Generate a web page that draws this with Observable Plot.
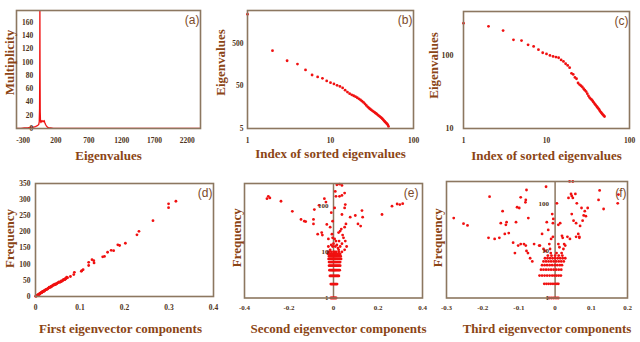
<!DOCTYPE html>
<html><head><meta charset="utf-8">
<script src="https://cdn.jsdelivr.net/npm/d3@7"></script>
<script src="https://cdn.jsdelivr.net/npm/@observablehq/plot@0.6"></script>
<style>
html,body{margin:0;padding:0;background:#fff;}
#fig{position:relative;width:640px;height:342px;overflow:hidden;background:#fff;}
#fig svg{position:absolute;overflow:visible;}
</style></head><body><div id="fig"></div>
<script>
// ---------- (a) spectrum ----------
const aEigen = [-400,-330,-280,-230,-180,-140,-110,-90,-75,-62,-54,-49,-46,-44,-42,-39,-35,-28,-20,-12,-4,4,12,20,30,42,55,70,90,120,160,220,400,800,1200,1600,2000,2400];
const aMult  = [0,0,1,1,2,2,3,4,5,6,10,30,90,185,90,25,12,9,11,12,11,10,11,12,9,6,4,2,1,1,0,0,0,0,0,0,0,0];
const aXTicks = [-300,200,700,1200,1700,2200];
const aYTicks = [0,20,40,60,80,100,120,140,160];
// ---------- (b) sorted eigenvalues ----------
const bValues = [2450,340,197,164,120,91,82,76,66,60,56,52,49,45,40,36,33,31,29.5,28,26.5,25,23.5,22,20.5,19,17.5,16.2,15.2,14.4,13.7,13,12.5,12,11.5,11,10.5,10.1,9.7,9.3,8.9,8.5,8.1,7.7,7.3,7,6.7,6.4,6.1,5.6];
const bYTicks = [5,50,500];
// ---------- (c) sorted eigenvalues ----------
const cValues = [276,251,219,164,160,140,133,120,109,105,100,97,95,93,87,83,77,73,68,57,55,50,48,42,40,38.5,37,35,33.5,32,30,28,26.5,25.5,24.8,23.8,22.8,21.8,21,20.3,19.6,18.9,18.2,17.4,16.8,16.3,15.8,15.4,15,14.6];
const cYTicks = [10,100];
const logXTicks = [1,10,100];
// ---------- (d) first eigenvector ----------
const dPoints = [[0.3155,295],[0.299,287],[0.299,275],[0.264,235],[0.2325,202],[0.228,191],[0.202,165],[0.189,158],[0.185,160],[0.1756,142],[0.170,143],[0.162,137],[0.155,124],[0.151,123],[0.131,111],[0.1316,104],[0.127,114],[0.1195,106],[0.1195,96],[0.107,83],[0.103,78],[0.104,80],[0.0874,75],[0.086,68],[0.0785,62],[0.072,58],[0.07,60],[0.068,55],[0.066,52],[0.062,50],[0.06,48],[0.057,46],[0.055,44],[0.052,44],[0.05,42],[0.048,40],[0.046,38],[0.044,37],[0.042,36],[0.04,35],[0.038,33],[0.036,31],[0.034,29],[0.032,28],[0.03,27],[0.028,25],[0.026,23],[0.024,21],[0.022,20],[0.021,19],[0.019,17],[0.018,16],[0.016,15],[0.015,14],[0.013,12],[0.012,11],[0.011,10],[0.01,9],[0.009,8],[0.008,7],[0.007,6],[0.006,5],[0.005,4],[0.004,3],[0.003,3],[0.002,2],[0.001,1],[0.0005,1],[0.003,2],[0.005,5],[0.009,7],[0.014,12],[0.017,16],[0.02,17],[0.023,21],[0.027,23],[0.031,29],[0.035,31],[0.039,35],[0.043,38],[0.047,40],[0.053,45],[0.058,48],[0.063,53],[0.067,55]];
const dXTicks = [0,0.1,0.2,0.3,0.4];
const dYTicks = [0,50,100,150,200,250,300,350];
// ---------- (e) second eigenvector ----------
const ePoints = [[-0.299,141],[-0.293,158],[-0.286,146],[-0.236,124],[-0.185,75],[-0.146,50],[-0.131,46],[-0.125,45],[-0.090,50],[-0.090,40],[-0.086,82],[-0.065,101],[-0.041,141],[-0.034,119],[-0.071,24],[-0.053,26],[-0.050,23],[-0.023,19],[-0.030,39],[-0.015,34],[-0.010,70],[-0.004,46],[0.015,282],[0.027,290],[0.038,272],[0.008,202],[0.027,158],[0.038,166],[0.050,186],[0.053,105],[0.050,89],[0.038,64],[0.011,158],[0.005,89],[0.075,56],[0.098,61],[0.128,78],[0.131,56],[0.110,40],[0.122,36],[0.056,40],[0.050,34],[0.035,31],[0.030,28],[0.023,26],[0.041,23],[0.045,20],[0.053,17],[0.059,13],[0.218,64],[0.263,97],[0.286,108],[0.298,105],[0.311,110],[-0.007,24],[-0.004,20],[0.005,19],[0.011,17],[0,15],[-0.010,14],[-0.004,13],[0.008,13],[0.020,12],[0.030,13],[0.038,15],[-0.015,11],[0.005,10],[0.023,11],[-0.025,10],[0.008,9],[0.030,9],[0.038,10],[-0.023,13],[0.015,14],[0.025,17],[0.050,11]];
const eRowFreq = [1,2,3,4,5,6,7,8,9,10];
const eRowX = [
  [-0.012,-0.008,-0.004,0,0.004,0.008,0.012],
  [-0.012,-0.008,-0.004,0,0.004,0.008,0.012,0.016],
  [-0.016,-0.012,-0.008,-0.004,0,0.004,0.008,0.012,0.016,0.02,0.024],
  [-0.018,-0.013,-0.008,-0.004,0,0.004,0.008,0.013,0.018,0.023,0.028],
  [-0.02,-0.015,-0.01,-0.005,0,0.005,0.01,0.015,0.02,0.025,0.03],
  [-0.02,-0.015,-0.01,-0.005,0,0.005,0.01,0.015,0.02,0.025,0.03],
  [-0.022,-0.016,-0.01,-0.005,0,0.005,0.01,0.016,0.022,0.028,0.034],
  [-0.02,-0.014,-0.008,-0.003,0.003,0.008,0.014,0.02,0.026,0.032],
  [-0.025,-0.015,-0.006,0.002,0.01,0.018,0.026],
  [-0.02,-0.01,0,0.012,0.024]
];
const eXTicks = [-0.4,-0.2,0,0.2,0.4];
// ---------- (f) third eigenvector ----------
const fPoints = [[-0.280,50],[-0.253,38],[-0.242,35],[-0.181,143],[-0.145,70],[-0.150,39],[-0.134,41],[-0.136,36],[-0.184,19],[-0.167,18],[-0.154,19],[-0.139,23],[-0.128,24],[-0.116,15],[-0.111,9],[-0.108,41],[-0.105,85],[-0.099,82],[-0.095,138],[-0.082,108],[-0.079,198],[-0.081,122],[-0.074,50],[-0.095,14],[-0.102,13],[-0.086,14],[-0.081,13],[-0.079,10],[-0.075,9],[-0.069,7],[-0.063,6],[-0.058,14],[-0.044,13],[-0.036,23],[-0.023,41],[-0.025,232],[-0.019,28],[-0.016,14],[-0.014,11],[-0.008,61],[-0.006,39],[-0.005,48],[-0.006,20],[-0.011,18],[0.005,103],[0.009,36],[0.014,39],[0.019,21],[0.021,19],[0.023,11],[0.028,13],[0.040,301],[0.049,300],[0.044,163],[0.046,148],[0.049,134],[0.037,134],[0.056,163],[0.060,103],[0.051,44],[0.058,39],[0.046,61],[0.073,82],[0.082,70],[0.090,82],[0.079,57],[0.085,55],[0.076,44],[0.069,34],[0.064,23],[0.067,20],[0.058,20],[0.067,19],[0.123,194],[0.120,122],[0.134,78],[0.173,103],[0.175,158],[0.034,20],[0.041,18],[0.025,14],[0.009,14],[0.012,12],[-0.042,13],[-0.032,11],[-0.027,10]];
const fRowFreq = [1,2,3,4,5,6,7,8,9];
const fRowX = [
  [-0.02,-0.015,-0.01,-0.005,0,0.005,0.009],
  [-0.03,-0.024,-0.018,-0.012,-0.006,0,0.005,0.009],
  [-0.043,-0.036,-0.029,-0.022,-0.015,-0.008,-0.002,0.004,0.01,0.016],
  [-0.039,-0.032,-0.025,-0.018,-0.011,-0.004,0.003,0.01,0.017],
  [-0.036,-0.029,-0.022,-0.015,-0.008,-0.001,0.006,0.013,0.019],
  [-0.032,-0.025,-0.018,-0.011,-0.004,0.003,0.01,0.017,0.024],
  [-0.028,-0.021,-0.014,-0.007,0,0.007,0.014,0.021,0.028],
  [-0.02,-0.01,0,0.01,0.02],
  [-0.012,0.004,0.018]
];
const fXTicks = [-0.3,-0.2,-0.1,0,0.1,0.2];
const freqLogTicks = [1,10,100];

// ---------- styling ----------
const RED = "#f01010", FRAME = "#8c7760", TITLE = "#8b4515", TICK = "#4e3320", TAG = "#7b4a2a";
const SERIF = "'Liberation Serif','Times New Roman',serif";
const SANS = "'Liberation Sans','Noto Sans',sans-serif";
const fig = document.getElementById("fig");

function rowsToPoints(freqs, rows) {
  const out = [];
  rows.forEach((r, i) => r.forEach(x => out.push([x, freqs[i]])));
  return out;
}

function tickText(o) {
  return {fontSize: 7.5, fontWeight: "bold", fill: TICK, fontFamily: SERIF, ...o};
}

function panel({left, top, width, height, margins, x, y, marks, xTitle, yTitle, tag, xt, yt, tagDx = -1, tagDy = 10}) {
  const [mt, mr, mb, ml] = margins;
  const svg = Plot.plot({
    width, height, marginTop: mt, marginRight: mr, marginBottom: mb, marginLeft: ml,
    x, y,
    style: {fontFamily: SERIF, background: "transparent", overflow: "visible"},
    marks: [
      ...marks,
      Plot.frame({stroke: FRAME, strokeWidth: 1.6}),
      Plot.text([xTitle], {text: d => d, frameAnchor: "bottom", dx: xt[0], dy: xt[1], lineAnchor: "middle", textAnchor: "middle", fontSize: 13, fontWeight: "bold", fill: TITLE, fontFamily: SERIF}),
      Plot.text([yTitle], {text: d => d, frameAnchor: "left", rotate: -90, dx: yt[0], dy: yt[1], lineAnchor: "middle", textAnchor: "middle", fontSize: 13, fontWeight: "bold", fill: TITLE, fontFamily: SERIF}),
      Plot.text([tag], {text: d => d, frameAnchor: "top-right", dx: tagDx, dy: tagDy, textAnchor: "end", lineAnchor: "middle", fontSize: 12, fill: TAG, fontFamily: SANS})
    ]
  });
  svg.style.left = left + "px";
  svg.style.top = top + "px";
  fig.append(svg);
}

const str = d => String(d);
const A_CROSS = -100;

// (a)
panel({
  left: 0, top: 0, width: 212, height: 170, margins: [10, 12, 42, 16],
  x: {domain: [-400, 2400], axis: null},
  y: {domain: [0, 178], axis: null},
  marks: [
    Plot.line(aEigen.map((e, i) => [e, aMult[i]]), {x: d => d[0], y: d => d[1], stroke: RED, strokeWidth: 1.3, clip: true}),
    Plot.text(aXTicks, {x: d => d, frameAnchor: "bottom", text: str, dy: 12, lineAnchor: "middle", ...tickText({})}),
    Plot.text(aYTicks, {x: () => A_CROSS, y: d => d, text: str, textAnchor: "end", dx: -3, ...tickText({})})
  ],
  xTitle: "Eigenvalues", yTitle: "Multiplicity", tag: "(a)", xt: [0, 27], yt: [-7, -7]
});

// (b)
panel({
  left: 212, top: 0, width: 212, height: 170, margins: [10, 11, 42, 35],
  x: {type: "log", domain: [1, 100], axis: null},
  y: {type: "log", domain: [5, 3000], axis: null},
  marks: [
    Plot.dot(bValues, {x: (d, i) => i + 1, y: d => d, r: 1.4, fill: RED}),
    Plot.text(logXTicks, {x: d => d, frameAnchor: "bottom", text: str, dy: 12, lineAnchor: "middle", ...tickText({})}),
    Plot.text(bYTicks, {y: d => d, frameAnchor: "left", text: str, textAnchor: "end", dx: -4, ...tickText({})})
  ],
  xTitle: "Index of sorted eigenvalues", yTitle: "Eigenvalues", tag: "(b)", xt: [0, 25], yt: [-27, -7]
});

// (c)
panel({
  left: 424, top: 0, width: 216, height: 170, margins: [11, 11, 42, 39],
  x: {type: "log", domain: [1, 100], axis: null},
  y: {type: "log", domain: [10, 400], axis: null},
  marks: [
    Plot.dot(cValues, {x: (d, i) => i + 1, y: d => d, r: 1.4, fill: RED}),
    Plot.text(logXTicks, {x: d => d, frameAnchor: "bottom", text: str, dy: 12, lineAnchor: "middle", ...tickText({})}),
    Plot.text(cYTicks, {y: d => d, frameAnchor: "left", text: str, textAnchor: "end", dx: -10, ...tickText({fontSize: 8})})
  ],
  xTitle: "Index of sorted eigenvalues", yTitle: "Eigenvalues", tag: "(c)", xt: [0, 27], yt: [-29.5, -4.5]
});

// (d)
panel({
  left: 0, top: 170, width: 222, height: 172, margins: [13, 9, 46, 35],
  x: {domain: [0, 0.4], axis: null},
  y: {domain: [0, 350], axis: null},
  marks: [
    Plot.dot(dPoints, {x: d => d[0], y: d => d[1], r: 1.4, fill: RED}),
    Plot.text(dXTicks, {x: d => d, frameAnchor: "bottom", text: str, dy: 11, lineAnchor: "middle", ...tickText({})}),
    Plot.text(dYTicks, {y: d => d, frameAnchor: "left", text: str, textAnchor: "end", dx: -5, ...tickText({})})
  ],
  xTitle: "First eigenvector components", yTitle: "Frequency", tag: "(d)", xt: [-4, 32], yt: [-26, -1.5]
});

// (e)
panel({
  left: 222, top: 170, width: 206, height: 172, margins: [13, 6, 44.5, 22],
  x: {domain: [-0.4, 0.4], axis: null},
  y: {type: "log", domain: [1, 300], axis: null},
  marks: [
    Plot.ruleX([0], {stroke: FRAME, strokeWidth: 1.5}),
    Plot.dot(rowsToPoints(eRowFreq, eRowX), {x: d => d[0], y: d => d[1], r: 1.4, fill: RED}),
    Plot.dot(ePoints, {x: d => d[0], y: d => d[1], r: 1.4, fill: RED}),
    Plot.text(eXTicks, {x: d => d, frameAnchor: "bottom", text: str, dy: 9.5, lineAnchor: "middle", ...tickText({fontSize: 7})}),
    Plot.text(freqLogTicks, {x: () => 0, y: d => d, text: str, textAnchor: "end", dx: -5, ...tickText({fontSize: 7})})
  ],
  xTitle: "Second eigenvector components", yTitle: "Frequency", tag: "(e)", xt: [5, 30.5], yt: [-7.5, -3], tagDx: -4
});

// (f)
panel({
  left: 428, top: 170, width: 212, height: 172, margins: [11, 13, 44.5, 18],
  x: {domain: [-0.3, 0.2], axis: null},
  y: {type: "log", domain: [1, 300], axis: null},
  marks: [
    Plot.ruleX([0], {stroke: FRAME, strokeWidth: 1.5}),
    Plot.dot(rowsToPoints(fRowFreq, fRowX), {x: d => d[0], y: d => d[1], r: 1.4, fill: RED}),
    Plot.dot(fPoints, {x: d => d[0], y: d => d[1], r: 1.4, fill: RED}),
    Plot.text(fXTicks, {x: d => d, frameAnchor: "bottom", text: str, dy: 10, lineAnchor: "middle", ...tickText({fontSize: 7})}),
    Plot.text(freqLogTicks, {x: () => 0, y: d => d, text: str, textAnchor: "end", dx: -6, ...tickText({fontSize: 7})})
  ],
  xTitle: "Third eigenvector components", yTitle: "Frequency", tag: "(f)", xt: [10, 30.5], yt: [-9, -2], tagDy: 12
});
</script></body></html>
